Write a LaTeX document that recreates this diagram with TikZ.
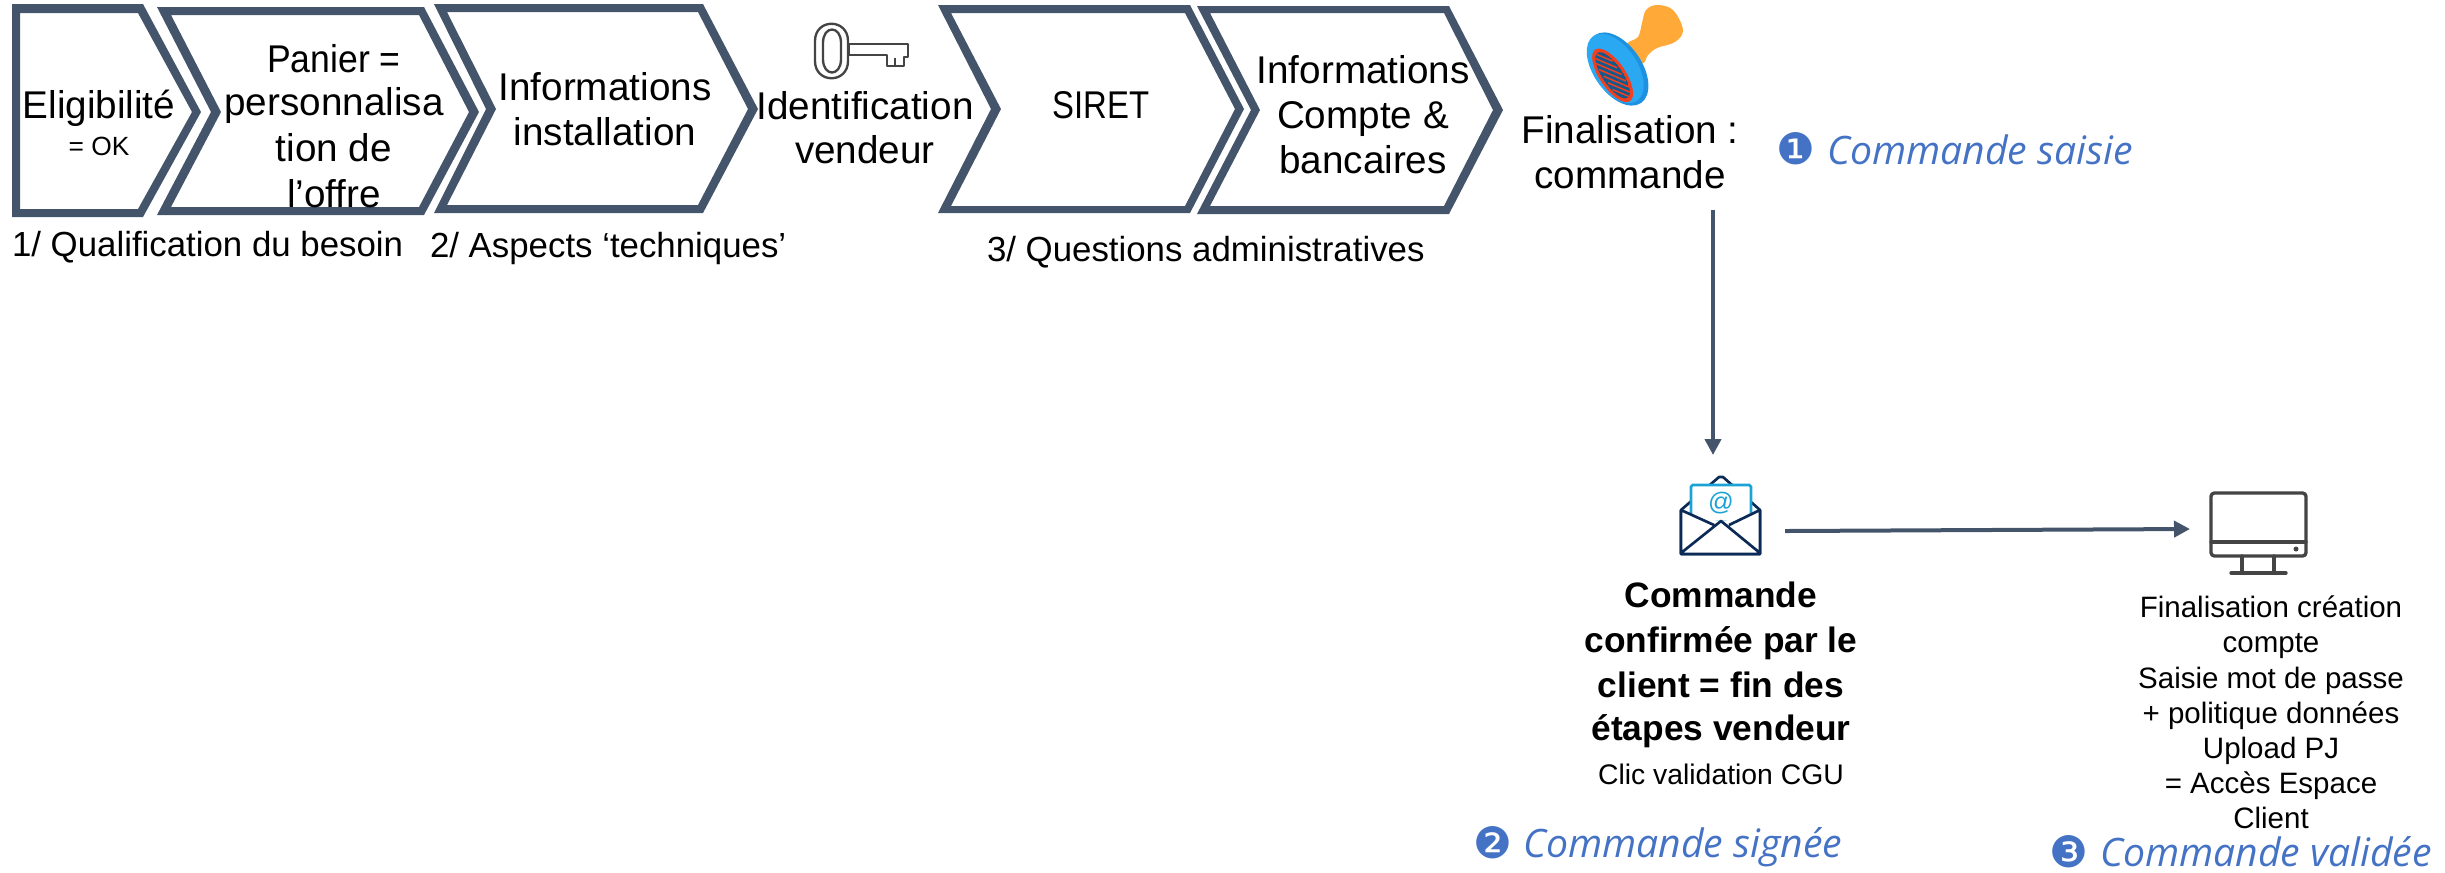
\documentclass[tikz,border=0pt]{standalone}
\usepackage{fontspec}
\setmainfont{Liberation Sans}
\newfontfamily\itfont{Open Sans}
\newfontfamily\bulfont{DejaVu Sans}
\usetikzlibrary{arrows.meta}
\definecolor{slate}{HTML}{44546A}
\definecolor{itblue}{HTML}{4472C4}
\definecolor{navy}{HTML}{0B2A55}
\definecolor{cyanmail}{HTML}{1BA3D6}
\definecolor{icongrey}{HTML}{444444}
\definecolor{stamporange}{HTML}{FFA938}
\definecolor{stampblue}{HTML}{2AA8F2}
\definecolor{stamprim}{HTML}{1E92E0}
\definecolor{stampred}{HTML}{F0401E}
\definecolor{stampnavy}{HTML}{14588C}
\tikzset{
  chev/.style={fill=slate,even odd rule},
  lbl/.style={inner sep=0pt,outer sep=0pt,anchor=base,align=center,text=black},
  big/.style={lbl,font=\fontsize{11.6pt}{13.6pt}\selectfont},
  captxt/.style={lbl,anchor=base west,font=\fontsize{10.45pt}{12pt}\selectfont},
  small/.style={lbl,font=\fontsize{8.85pt}{10.55pt}\selectfont},
  boldtxt/.style={lbl,font=\fontsize{10.6pt}{13.3pt}\selectfont\bfseries},
  status/.style={lbl,anchor=base west,text=itblue,font=\fontsize{11.75pt}{14pt}\selectfont\itfont\itshape},
  bul/.style={inner sep=0pt,outer sep=0pt,anchor=center,text=itblue,font=\fontsize{13pt}{14pt}\selectfont\bulfont},
  flow/.style={slate,line width=1.2pt,-{Triangle[length=4.8pt,width=4.8pt]}},
  ic/.style={icongrey,line width=1pt,line join=round,line cap=round},
  keyline/.style={icongrey,line width=0.7pt,line join=round}
}
\begin{document}
\begin{tikzpicture}[x=0.3pt,y=-0.3pt]
\useasboundingbox (0,0) rectangle (2445,872);
% chevrons
\fill[chev] (12,4)--(143,4)--(201,112)--(143,217)--(12,217)--cycle
  (20,13)--(138,13)--(192,112)--(138,209)--(20,209)--cycle;
\fill[chev] (157,7)--(424,7)--(479,112)--(424,215)--(157,215)--(211,112)--cycle
  (171,15)--(419,15)--(469,112)--(419,207)--(171,207)--(221,112)--cycle;
\fill[chev] (434,4)--(703,4)--(758,109)--(703,213)--(434,213)--(486,109)--cycle
  (447,12)--(698,12)--(748,109)--(698,205)--(447,205)--(496,109)--cycle;
\fill[chev] (938,5)--(1190,5)--(1244,109)--(1190,213)--(938,213)--(991,109)--cycle
  (951,13)--(1185,13)--(1235,109)--(1185,206)--(951,206)--(1001,109)--cycle;
\fill[chev] (1197,6)--(1449,6)--(1503,110)--(1449,214)--(1197,214)--(1251,110)--cycle
  (1210,13)--(1444,13)--(1493,110)--(1444,206)--(1210,206)--(1260,110)--cycle;
% key
\draw[keyline,fill=white] (849,44)--(908,44)--(908,57)--(904,57)--(904,66)--(887,66)--(887,55)--(849,55)--cycle;
\draw[keyline] (895,58)--(895,66);
\draw[keyline,fill=white] (815,41) .. controls (815,18) and (848,18) .. (848,41)--(848,61) .. controls (848,84) and (815,84) .. (815,61)--cycle;
\draw[keyline] (823,43) .. controls (823,25) and (841,25) .. (841,43)--(841,59) .. controls (841,77) and (823,77) .. (823,59)--cycle;
% stamp
\fill[stamporange] plot[smooth cycle,tension=0.6] coordinates {(1627,45) (1638,37) (1642,23) (1646,10) (1657,5) (1673,10) (1683,30) (1675,42) (1657,48) (1648,55) (1642,63)};
\begin{scope}[shift={(1618,69)},x={(0.249pt,0.168pt)},y={(0.168pt,-0.249pt)}]
\fill[stamprim] (0,0) ellipse [x radius=24,y radius=41];
\fill[stampblue] (-2,-2) ellipse [x radius=22,y radius=39];
\fill[stampred] (-8,2.2) ellipse [x radius=13,y radius=31];
\begin{scope}
\clip (-8,2.2) ellipse [x radius=10,y radius=27];
\fill[stampnavy] (-8,2.2) ellipse [x radius=10,y radius=27];
\foreach \yy in {-24,-16,-8,0,8,16,24}
  \draw[stampred,line width=0.45pt] (-16,{2.2+\yy-12.3})--(0,{2.2+\yy+12.3});
\end{scope}
\end{scope}
% envelope
\draw[navy,line width=0.8pt,line join=round] (1681,510)--(1719,477)--(1723,477)--(1760,510)--(1760,554)--(1681,554)--cycle;
\draw[cyanmail,line width=0.8pt,fill=white,rounded corners=0.5pt] (1691,485) rectangle (1751,522);
\fill[white] (1682,511)--(1721,522)--(1759,511)--(1759,553)--(1682,553)--cycle;
\draw[navy,line width=0.8pt,line join=round] (1681,510)--(1714,525) (1760,510)--(1729,525)
  (1681,553)--(1721,521)--(1760,553) (1681,510)--(1681,554)--(1760,554)--(1760,510);
\node[lbl,anchor=center,text=cyanmail,font=\fontsize{7.6pt}{9pt}\selectfont] (at) at (1721,503) {@};
% monitor
\draw[ic,rounded corners=1pt] (2211,493) rectangle (2306,556);
\draw[ic] (2211,542)--(2306,542);
\draw[ic] (2242,556)--(2242,573) (2274,556)--(2274,573) (2231,573)--(2286,573);
\fill[icongrey] (2296,549) circle (2.5);
% text
\node[big] (n1) at (99,118) {Eligibilité};
\node[lbl,font=\fontsize{7.9pt}{9pt}\selectfont] (n1b) at (99,155) {= OK};
\node[big] (n2a) at (334,72) {\scalebox{0.92}[1]{Panier =}};
\node[big] (n2b) at (334,115) {personnalisa};
\node[big] (n2c) at (334,161) {tion de};
\node[big] (n2d) at (334,207) {l’offre};
\node[big] (n3a) at (605,100) {Informations};
\node[big] (n3b) at (605,145) {installation};
\node[big] (n4a) at (865,119) {Identification};
\node[big] (n4b) at (865,163) {vendeur};
\node[big] (n5) at (1101,118) {\scalebox{0.85}[1]{SIRET}};
\node[big] (n6a) at (1363,83) {Informations};
\node[big] (n6b) at (1363,128) {Compte \&};
\node[big] (n6c) at (1363,173) {bancaires};
\node[big] (n7a) at (1630,143) {Finalisation :};
\node[big] (n7b) at (1630,188) {commande};
\node[captxt] (c1) at (12,256) {1/ Qualification du besoin};
\node[captxt] (c2) at (430,257) {2/ Aspects ‘techniques’};
\node[captxt] (c3) at (987,261) {3/ Questions administratives};
\node[bul] (b1) at (1796,149) {❶};
\node[status] (s1) at (1827,164) {Commande saisie};
\node[boldtxt] (n8a) at (1721,607) {Commande};
\node[boldtxt] (n8b) at (1721,652) {confirmée par le};
\node[boldtxt] (n8c) at (1721,697) {client = fin des};
\node[boldtxt] (n8d) at (1721,740) {étapes vendeur};
\node[small,font=\fontsize{8.5pt}{10pt}\selectfont] (n8e) at (1721,784) {Clic validation CGU};
\node[bul] (b2) at (1493,843) {❷};
\node[status] (s2) at (1523,857) {Commande signée};
\node[small] (n9a) at (2271,617) {Finalisation création};
\node[small] (n9b) at (2271,652) {compte};
\node[small] (n9c) at (2271,688) {Saisie mot de passe};
\node[small] (n9d) at (2271,723) {+ politique données};
\node[small] (n9e) at (2271,758) {Upload PJ};
\node[small] (n9f) at (2271,793) {= Accès Espace};
\node[small] (n9g) at (2271,828) {Client};
\node[bul] (b3) at (2069,852) {❸};
\node[status] (s3) at (2100,866) {Commande validée};
% connectors
\coordinate (a1s) at (1713,210);
\coordinate (a1e) at (1713,455);
\coordinate (a2s) at (1785,531);
\coordinate (a2e) at (2190,529);
\draw[flow] (a1s)--(a1e);
\draw[flow] (a2s)--(a2e);
\end{tikzpicture}
\end{document}
